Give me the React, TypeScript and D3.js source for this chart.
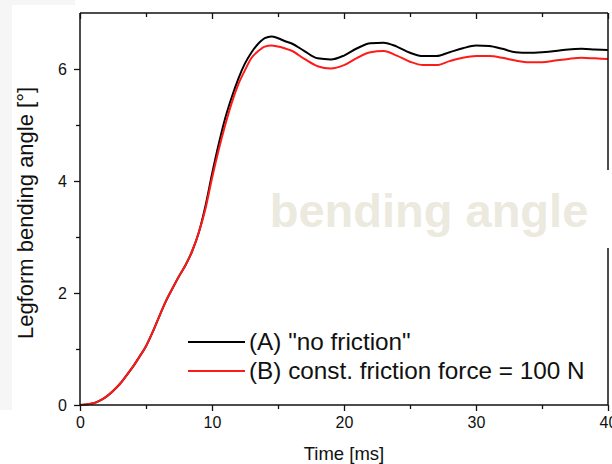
import React, { useEffect, useRef } from "react";
import * as d3 from "d3";

// time [ms]
const time = [0, 0.5, 1, 1.5, 2, 2.5, 3, 3.5, 4, 4.5, 5, 5.5, 6, 6.5, 7, 7.5, 8, 8.5, 9, 9.5, 10, 10.5, 11, 11.5, 12, 12.5, 13, 13.5, 14, 14.5, 15, 15.5, 16, 17, 18, 19, 20, 21, 22, 23, 24, 25, 26, 27, 28, 29, 30, 31, 32, 33, 34, 35, 36, 37, 38, 39, 40];
// (A) no friction
const noFriction = [0, 0.01, 0.03, 0.08, 0.15, 0.25, 0.37, 0.52, 0.68, 0.86, 1.05, 1.3, 1.58, 1.85, 2.08, 2.3, 2.5, 2.75, 3.08, 3.55, 4.12, 4.65, 5.12, 5.5, 5.83, 6.1, 6.3, 6.45, 6.55, 6.58, 6.55, 6.5, 6.46, 6.32, 6.19, 6.17, 6.24, 6.37, 6.46, 6.47, 6.4, 6.29, 6.23, 6.23, 6.3, 6.37, 6.42, 6.41, 6.36, 6.3, 6.29, 6.3, 6.32, 6.35, 6.36, 6.35, 6.34];
// (B) const. friction force = 100 N
const withFriction = [0, 0.01, 0.03, 0.08, 0.15, 0.25, 0.37, 0.52, 0.68, 0.86, 1.05, 1.3, 1.58, 1.85, 2.08, 2.3, 2.5, 2.75, 3.08, 3.5, 4.05, 4.55, 5.0, 5.4, 5.73, 5.98, 6.2, 6.32, 6.4, 6.42, 6.4, 6.37, 6.33, 6.18, 6.05, 6.01, 6.07, 6.2, 6.3, 6.32, 6.24, 6.13, 6.07, 6.07, 6.14, 6.2, 6.23, 6.23, 6.2, 6.15, 6.12, 6.12, 6.15, 6.18, 6.2, 6.19, 6.18];

const xTicks = [0, 10, 20, 30, 40];
const xMinor = [5, 15, 25, 35];
const yTicks = [0, 2, 4, 6];
const yMinor = [1, 3, 5];

const seriesNames = ['(A) "no friction"', "(B) const. friction force = 100 N"];
const seriesColors = ["#000000", "#ff1a1a"];

export default function App() {
  const ref = useRef<SVGSVGElement>(null);

  useEffect(() => {
    const width = 612,
      height = 464;
    const left = 80,
      right = 608,
      top = 13,
      bottom = 405;
    const font = "Liberation Sans, Arial, sans-serif";
    const svg = d3.select(ref.current);
    svg.selectAll("*").remove();

    svg.append("rect").attr("width", width).attr("height", height).attr("fill", "#fff");
    svg.append("rect").attr("width", 12).attr("height", 410).attr("fill", "#f6f6f6");
    svg.append("rect").attr("width", 75).attr("height", 5).attr("fill", "#f6f6f6");

    const x = d3.scaleLinear().domain([0, 40]).range([left, right]);
    const y = d3.scaleLinear().domain([0, 7]).range([bottom, top]);

    // watermark
    svg
      .append("text")
      .attr("x", 429)
      .attr("y", 227)
      .attr("text-anchor", "middle")
      .attr("font-family", font)
      .attr("font-weight", "bold")
      .attr("font-size", 47)
      .attr("fill", "#ece9df")
      .text("bending angle");

    const line = d3
      .line<number>()
      .x((_, i) => x(time[i]))
      .y((d) => y(d))
      .curve(d3.curveMonotoneX);

    [noFriction, withFriction].forEach((s, i) => {
      svg
        .append("path")
        .datum(s)
        .attr("fill", "none")
        .attr("stroke", seriesColors[i])
        .attr("stroke-width", 2)
        .attr("d", line);
    });

    const axisColor = "#111";
    // frame
    const frame = svg.append("g").attr("stroke", axisColor).attr("stroke-width", 1.5);
    frame.append("line").attr("x1", left).attr("x2", left).attr("y1", top).attr("y2", bottom);
    frame.append("line").attr("x1", left).attr("x2", right).attr("y1", bottom).attr("y2", bottom);
    frame.append("line").attr("x1", left).attr("x2", right).attr("y1", top).attr("y2", top);
    frame.append("line").attr("x1", right).attr("x2", right).attr("y1", top).attr("y2", 170);
    frame.append("line").attr("x1", right).attr("x2", right).attr("y1", 248).attr("y2", bottom);

    // bottom axis
    const xb = svg.append("g").attr("transform", `translate(0,${bottom})`);
    xb.call(d3.axisBottom(x).tickValues(xTicks).tickSize(6).tickPadding(6).tickFormat(d3.format("d")));
    xb.append("g").call(d3.axisBottom(x).tickValues(xMinor).tickSize(4).tickFormat(() => ""));
    // top axis (inward)
    const xt = svg.append("g").attr("transform", `translate(0,${top})`);
    xt.call(d3.axisBottom(x).tickValues(xTicks).tickSize(6).tickFormat(() => ""));
    xt.append("g").call(d3.axisBottom(x).tickValues(xMinor).tickSize(4).tickFormat(() => ""));
    // left axis
    const yl = svg.append("g").attr("transform", `translate(${left},0)`);
    yl.call(d3.axisLeft(y).tickValues(yTicks).tickSize(6).tickPadding(7).tickFormat(d3.format("d")));
    yl.append("g").call(d3.axisLeft(y).tickValues(yMinor).tickSize(4).tickFormat(() => ""));

    svg.selectAll(".domain").remove();
    svg.selectAll(".tick line").attr("stroke", axisColor).attr("stroke-width", 1.3);
    svg
      .selectAll(".tick text")
      .attr("font-family", font)
      .attr("font-size", 16)
      .attr("fill", "#111");

    // axis titles
    svg
      .append("text")
      .attr("x", 344)
      .attr("y", 460)
      .attr("text-anchor", "middle")
      .attr("font-family", font)
      .attr("font-size", 18.5)
      .attr("fill", "#111")
      .text("Time [ms]");
    svg
      .append("text")
      .attr("transform", `translate(33,213) rotate(-90)`)
      .attr("text-anchor", "middle")
      .attr("font-family", font)
      .attr("font-size", 22)
      .attr("fill", "#111")
      .text("Legform bending angle [°]");

    // legend
    const legend = svg.append("g");
    seriesNames.forEach((name, i) => {
      const ly = 342 + i * 29;
      legend
        .append("line")
        .attr("x1", 188)
        .attr("x2", 245)
        .attr("y1", ly)
        .attr("y2", ly)
        .attr("stroke", seriesColors[i])
        .attr("stroke-width", 2);
      legend
        .append("text")
        .attr("x", 249)
        .attr("y", ly + 8)
        .attr("font-family", font)
        .attr("font-size", 24.3)
        .attr("fill", "#111")
        .text(name);
    });
  }, []);

  return (
    <svg
      ref={ref}
      width={612}
      height={464}
      style={{ position: "absolute", left: 0, top: 0, display: "block" }}
    />
  );
}
